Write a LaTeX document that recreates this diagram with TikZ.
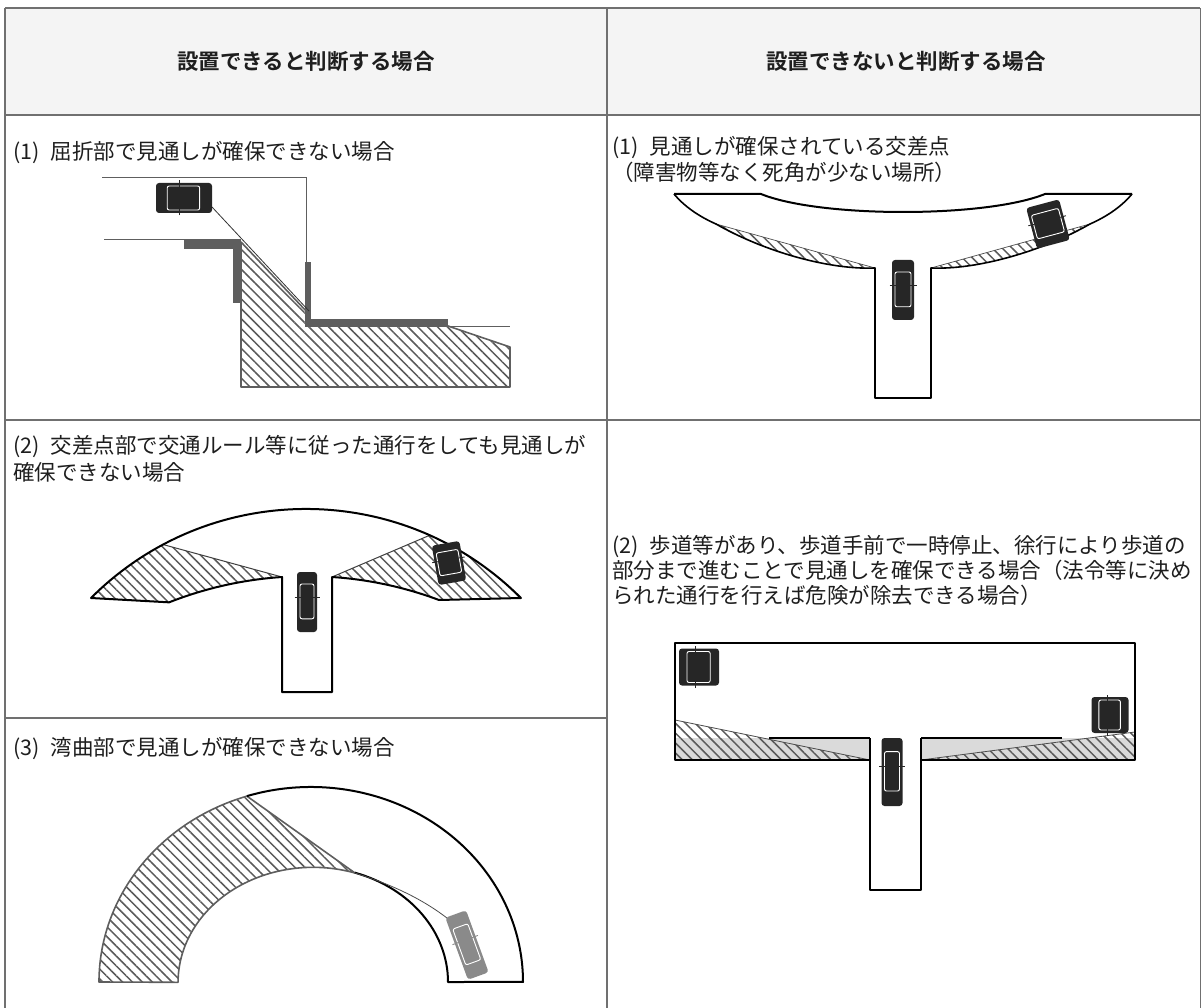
\documentclass[tikz,border=0pt]{standalone}
\usepackage{fontspec}
\newfontfamily\jp[BoldFont={Noto Sans CJK JP Bold}]{Noto Sans CJK JP}
\usetikzlibrary{patterns.meta}
\definecolor{headbg}{HTML}{F4F4F4}
\definecolor{tablegray}{HTML}{707070}
\definecolor{hatchgray}{HTML}{5A5A5A}
\definecolor{bargray}{HTML}{5E5E5E}
\definecolor{carblack}{HTML}{262626}
\definecolor{cargray}{HTML}{8A8A8A}
\definecolor{sidewalk}{HTML}{DADADA}
\definecolor{txtcol}{HTML}{1E1E1E}
\newcommand\drawcar[6]{%
  \begin{scope}[shift={(#1,#2)},rotate=#3]
    \fill[#6,rounded corners=3pt] (-#4/2,-#5/2) rectangle (#4/2,#5/2);
    \draw[white,line width=0.9pt,rounded corners=2pt] (-#4/2+3,-#5/2+0.2*#5) rectangle (#4/2-3,#5/2-0.22*#5);
    \draw[#6,line width=0.9pt] (-#4/2-2.5,-0.08*#5) -- (#4/2+2.5,-0.08*#5);
  \end{scope}}
\newcommand\numsp{\hspace{11pt}}
\tikzset{
  grid/.style={draw=tablegray,line width=1.3pt},
  hatch/.style={pattern={Lines[angle=-45,distance=7pt,line width=1.5pt]},pattern color=hatchgray},
  road/.style={draw=black,line width=2pt,line join=round},
  thinline/.style={draw=bargray,line width=0.9pt},
  hatchedge/.style={draw=bargray,line width=1.6pt,line join=round},
  txt/.style={font=\jp\fontsize{21.5}{26}\selectfont,text=txtcol,inner sep=0pt},
  headtxt/.style={font=\jp\bfseries\fontsize{21.5}{24}\selectfont,text=txtcol,inner sep=0pt},
}
\begin{document}
\begin{tikzpicture}[x=1pt,y=-1pt]
\useasboundingbox (0,0) rectangle (1202,1008);
% ---------- table ----------
\fill[headbg] (5,8) rectangle (1200,115);
\draw[grid,line width=1.7pt] (5,8) -- (1200,8);
\draw[grid] (5,115) -- (1200,115);
\draw[grid] (5,8) -- (5,1008);
\draw[grid] (607,8) -- (607,1008);
\draw[grid,line width=0.8pt] (1200.5,8) -- (1200.5,1008);
\draw[grid] (5,420) -- (1200,420);
\draw[grid] (5,718) -- (607,718);
% ---------- texts ----------
\node[headtxt,anchor=base] (h1) at (306,70) {設置できると判断する場合};
\node[headtxt,anchor=base] (h2) at (906,70) {設置できないと判断する場合};
\node[txt,anchor=base west] (l1) at (13,160) {(1)\numsp 屈折部で見通しが確保できない場合};
\node[txt,anchor=base west] (r1a) at (612,155) {(1)\numsp 見通しが確保されている交差点};
\node[txt,anchor=base west] (r1b) at (612,181) {（障害物等なく死角が少ない場所）};
\node[txt,anchor=base west] (l2a) at (13,453) {(2)\numsp 交差点部で交通ルール等に従った通行をしても見通しが};
\node[txt,anchor=base west] (l2b) at (13,480) {確保できない場合};
\node[txt,anchor=base west] (l3) at (13,755) {(3)\numsp 湾曲部で見通しが確保できない場合};
\node[txt,anchor=base west] (r2a) at (612,553) {(2)\numsp 歩道等があり、歩道手前で一時停止、徐行により歩道の};
\node[txt,anchor=base west] (r2b) at (612,578) {部分まで進むことで見通しを確保できる場合（法令等に決め};
\node[txt,anchor=base west] (r2c) at (612,603) {られた通行を行えば危険が除去できる場合）};
% ---------- drawing 1 : bend ----------
\fill[hatch] (241,242) -- (308,313) -- (308,326) -- (448,326) -- (510,347) -- (510,387) -- (241,387) -- cycle;
\draw[hatchedge] (241,242) -- (308,313) -- (308,326) -- (448,326) -- (510,347) -- (510,387) -- (241,387) -- cycle;
\draw[thinline] (102,177) -- (306,177) -- (306,262);
\draw[thinline] (104,239) -- (184,239);
\draw[thinline] (448,326) -- (510,326);
\fill[bargray] (184,239) rectangle (241,249);
\fill[bargray] (233,239) rectangle (241,303);
\fill[bargray] (305,262) rectangle (311,324);
\fill[bargray] (305,319) rectangle (448,327);
\draw[line width=0.8pt,black!80] (212,207) -- (309,311);
\drawcar{184}{198}{90}{30}{56}{carblack}
% ---------- drawing 2 : open intersection ----------
\fill[hatch] (716,224) .. controls (765,252) and (830,270) .. (875,268) -- cycle;
\fill[hatch] (1090,224) .. controls (1041,252) and (976,270) .. (931,268) -- cycle;
\draw[black!70,line width=0.7pt] (716,224) -- (875,268) (1090,224) -- (931,268);
\draw[road] (674,194) -- (761,194) .. controls (820,218) and (986,218) .. (1045,194) -- (1132,194);
\draw[road,line width=1.6pt] (674,194) .. controls (684,206) and (698,216) .. (716,224)
   .. controls (765,252) and (830,270) .. (875,268) -- (875,398) -- (931,398) -- (931,268)
   .. controls (976,270) and (1041,252) .. (1090,224) .. controls (1108,216) and (1122,206) .. (1132,194);
\drawcar{903}{290}{0}{22}{60}{carblack}
\drawcar{1048}{224}{15}{34}{42}{carblack}
% ---------- drawing 3 : intersection with blind corners ----------
\fill[white] (91,598) arc[start angle=-135,end angle=-45,radius=304] -- (439,600)
   arc[start angle=-69.5,end angle=-86.2,radius=376] -- (332,692) -- (282,692) -- (282,577)
   arc[start angle=-93.8,end angle=-111.5,radius=376] -- cycle;
\fill[hatch] (91,598) arc[start angle=-135,end angle=-118,radius=304] -- (282,577)
   arc[start angle=-93.8,end angle=-111.5,radius=376] -- cycle;
\fill[hatch] (521,598) arc[start angle=-45,end angle=-66,radius=304] -- (332,577)
   arc[start angle=-86.2,end angle=-69.5,radius=376] -- cycle;
\draw[black!75,line width=1pt] (163.3,544.6) -- (282,577) (429.6,535.3) -- (332,577);
\draw[road] (91,598) arc[start angle=-135,end angle=-45,radius=304] -- (439,600)
   arc[start angle=-69.5,end angle=-86.2,radius=376] -- (332,692) -- (282,692) -- (282,577)
   arc[start angle=-93.8,end angle=-111.5,radius=376] -- cycle;
\drawcar{307}{602}{0}{20}{60}{carblack}
\drawcar{449}{563}{10}{28}{40}{carblack}
% ---------- drawing 4 : curve ----------
\fill[hatch] (99,982) arc[start angle=180,end angle=252.4,x radius=212,y radius=195] -- (355,873)
   arc[start angle=288.1,end angle=180,x radius=135,y radius=115] -- cycle;
\draw[hatchedge] (99,982) arc[start angle=180,end angle=252.4,x radius=212,y radius=195] -- (355,873)
   arc[start angle=288.1,end angle=180,x radius=135,y radius=115] -- cycle;
\draw[road] (246.9,796.1) arc[start angle=252.4,end angle=360,x radius=212,y radius=195] -- (448,982)
   arc[start angle=360,end angle=288.1,x radius=135,y radius=115];
\draw[black!70,line width=0.8pt] (355,873) .. controls (400,887) and (430,904) .. (452,922);
\drawcar{467}{945}{20}{22}{66}{cargray}
% ---------- drawing 5 : sidewalk ----------
\fill[sidewalk] (675,738) rectangle (870,760);
\fill[sidewalk] (921,738) rectangle (1135,760);
\fill[hatch] (675,720) -- (870,760) -- (675,760) -- cycle;
\fill[hatch] (1135,732) -- (921,760) -- (1135,760) -- cycle;
\draw[black!70,line width=0.8pt] (675,720) -- (870,760) (1135,732) -- (921,760);
\draw[line width=1.6pt] (769,738) -- (870,738) (921,738) -- (1062,738);
\draw[road] (870,760) -- (675,760) -- (675,643) -- (1135,643) -- (1135,760) -- (921,760);
\draw[road] (870,738) -- (870,890) -- (921,890) -- (921,738);
\drawcar{699}{667}{90}{37}{40}{carblack}
\drawcar{1110}{715}{90}{36}{37}{carblack}
\drawcar{892}{772}{0}{21}{68}{carblack}
\end{tikzpicture}
\end{document}
